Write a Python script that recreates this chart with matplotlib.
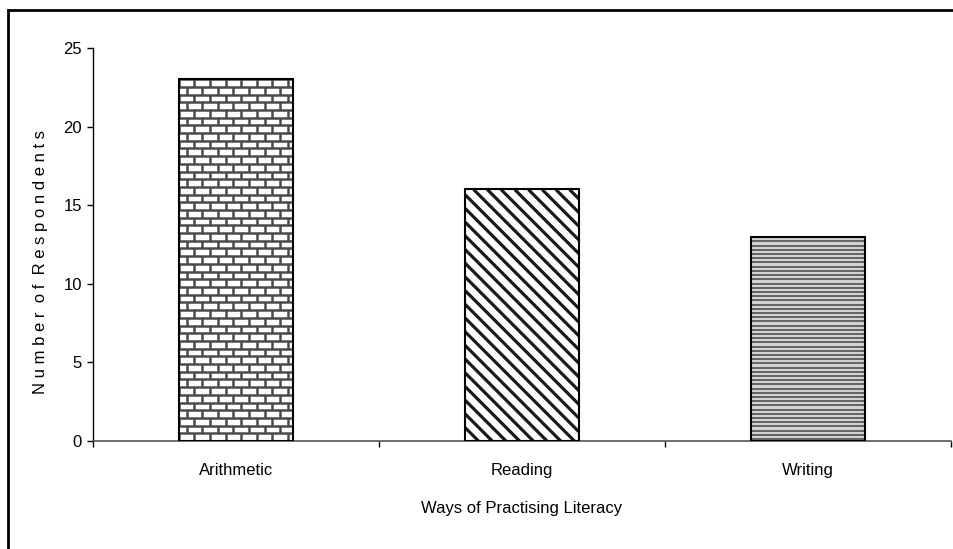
import matplotlib
matplotlib.use("Agg")
import matplotlib.pyplot as plt
from matplotlib.collections import LineCollection
from matplotlib.patches import Rectangle

plt.rcParams['font.family'] = ['Liberation Sans', 'DejaVu Sans']

# survey counts
categories = ['Arithmetic', 'Reading', 'Writing']
respondents = [23, 16, 13]
yticks = [0, 5, 10, 15, 20, 25]

fig = plt.figure(figsize=(9.54, 5.49), dpi=100)
ax = fig.add_axes([93 / 954, 1 - 441 / 549, 858 / 954, 393 / 549])
ax.set_xlim(-0.5, 2.5)
ax.set_ylim(0, 25)

xs = list(range(len(categories)))
width = 0.40
bars = ax.bar(xs, respondents, width=width, color='white', edgecolor='none', zorder=2)
ax.bar(xs, respondents, width=width, fill=False, edgecolor='black', linewidth=1.5, zorder=4)

# data units per pixel, used to keep fill patterns square on screen
p0, p1 = ax.transData.transform([(0, 0), (1, 1)])
sx, sy = p1[0] - p0[0], p1[1] - p0[1]


def add_lines(patch, segs, color, lw):
    lc = LineCollection(segs, colors=color, linewidths=lw, zorder=3)
    ax.add_collection(lc, autolim=False)
    lc.set_clip_path(patch)


# brick fill
b = bars[0]
x0, x1, h = b.get_x(), b.get_x() + b.get_width(), b.get_height()
bh = 7.7 / sy
bw = 15.6 / sx
segs = []
i = 0
y = 0.0
while y < h + bh:
    segs.append([(x0, y), (x1, y)])
    off = (i % 2) * bw / 2
    x = x0 + off - bw
    while x < x1 + bw:
        segs.append([(x, y), (x, y + bh)])
        x += bw
    y += bh
    i += 1
add_lines(b, segs, '#4a4a4a', 1.8)

# diagonal stripes
b = bars[1]
x0, x1, h = b.get_x(), b.get_x() + b.get_width(), b.get_height()
run = h * sy / sx
step = 13.7 / sx
segs = []
c = x0 - run - step
while c < x1 + step:
    segs.append([(c, h), (c + run, 0)])
    c += step
add_lines(b, segs, '#1a1a1a', 2.3)

# horizontal ruling
b = bars[2]
b.set_facecolor('#d2d2d2')
x0, x1, h = b.get_x(), b.get_x() + b.get_width(), b.get_height()
step = 4.2 / sy
segs = []
y = step / 2
while y < h:
    segs.append([(x0, y), (x1, y)])
    y += step
add_lines(b, segs, '#5a5a5a', 1.3)

# axes styling
for s in ['top', 'right']:
    ax.spines[s].set_visible(False)
ax.spines['left'].set_linewidth(1.0)
ax.spines['bottom'].set_color('#555555')
ax.spines['bottom'].set_linewidth(1.2)

ax.set_yticks(yticks)
ax.tick_params(axis='y', direction='out', length=4, width=1, pad=4, labelsize=12)
ax.set_xticks(xs)
ax.set_xticklabels(categories)
ax.set_xticks([-0.5, 0.5, 1.5, 2.5], minor=True)
ax.tick_params(axis='x', which='major', length=0, pad=16, labelsize=12)
ax.tick_params(axis='x', which='minor', direction='out', length=4, width=1)

ax.set_xlabel('Ways of Practising Literacy', fontsize=12)
ax.xaxis.set_label_coords(0.5, -0.152)
ax.set_ylabel('N u m b e r  o f  R e s p o n d e n t s', fontsize=12)
ax.yaxis.set_label_coords(-0.052, 0.455)

# outer frame
fig.patches.append(Rectangle((8.5 / 954, -0.2), 1.3, 0.2 + 1 - 10.5 / 549,
                             transform=fig.transFigure, fill=False,
                             edgecolor='black', linewidth=2))

fig.savefig('out.png', dpi=100)
